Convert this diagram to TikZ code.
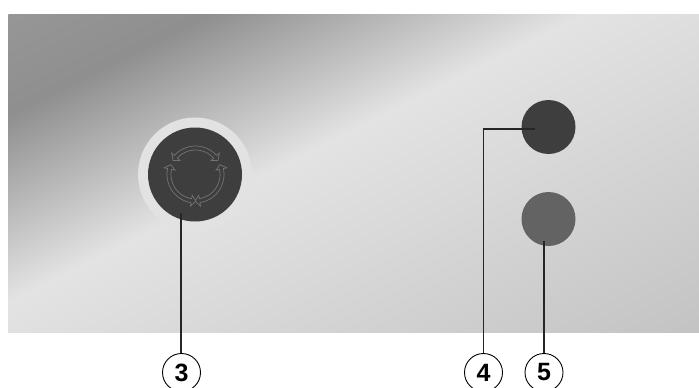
\documentclass[tikz,border=0pt]{standalone}
\usepackage{fontspec}
\setmainfont{Liberation Sans}
\definecolor{panA}{gray}{0.56}
\definecolor{panB}{gray}{0.89}
\definecolor{panC}{gray}{0.765}
\definecolor{panD}{gray}{0.59}
\definecolor{halo}{gray}{0.885}
\definecolor{btnDark}{gray}{0.245}
\definecolor{btnMid}{gray}{0.39}
\definecolor{iconline}{gray}{0.45}
\pgfdeclareverticalshading{panelgrad}{1200pt}{
 color(0pt)=(panC);
 color(53pt)=(panC);
 color(390pt)=(panB);
 color(557pt)=(panA);
 color(648pt)=(panD);
 color(700pt)=(panD)}
\tikzset{
 button/.style={circle,inner sep=0pt,minimum size=#1},
 callout/.style={circle,draw=black,line width=0.9pt,inner sep=0pt,minimum size=38pt,font=\bfseries\fontsize{25}{25}\selectfont},
 leader/.style={draw=black!85,line width=1.1pt},
 ringline/.style={draw=iconline,line width=0.7pt,line join=miter}
}
\begin{document}
\begin{tikzpicture}[x=1pt,y=-1pt]
\useasboundingbox (0,0) rectangle (699,388);
\clip (0,0) rectangle (699,388);
\fill[white] (0,0) rectangle (699,388);
\begin{scope}
\clip (8.4,14) rectangle (699,332.7);
\node[inner sep=0pt,rotate=26.6] at (353,174) {\pgfuseshading{panelgrad}};
\end{scope}
\node[button=114pt,fill=halo] (halo) at (195,174.5) {};
\node[button=94pt,fill=btnDark] (btn3) at (195,174.5) {};
\node[button=54pt,fill=btnDark] (btn4) at (548.5,127) {};
\node[button=54pt,fill=btnMid] (btn5) at (548.5,219) {};
% three double-headed ring arrows
\begin{scope}[shift={(195.5,174.5)},x=1pt,y=1pt]
\foreach \sa/\ea in {32/148,158/271,-91/22}{
 \pgfmathsetmacro{\hs}{\sa+10}
 \pgfmathsetmacro{\he}{\ea-10}
 \draw[ringline] (\sa:26.5) -- (\hs:32) -- (\hs:28.5)
   arc[start angle=\hs,end angle=\he,radius=28.5]
   -- (\he:32) -- (\ea:26.5) -- (\he:21) -- (\he:24.5)
   arc[start angle=\he,end angle=\hs,radius=24.5]
   -- (\hs:21) -- cycle;
}
\end{scope}
\coordinate (a3) at (181,213);
\coordinate (a4) at (535,129);
\coordinate (a5) at (544,241);
\node[callout] (c3) at (181.5,372.5) {3};
\node[callout] (c4) at (483.5,372.5) {4};
\node[callout] (c5) at (544,372.5) {5};
\draw[leader] (a3) -- (a3 |- c3.north);
\draw[leader] (a4) -- (a4 -| c4.north) -- (c4.north);
\draw[leader] (a5) -- (a5 |- c5.north);
\end{tikzpicture}
\end{document}
